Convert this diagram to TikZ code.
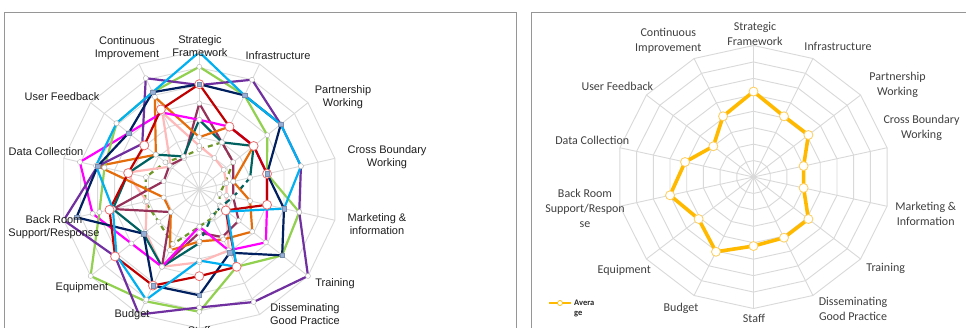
\documentclass[tikz,border=0pt]{standalone}
\usepackage{fontspec}
\setmainfont{Liberation Sans}
\newfontfamily\calibri{Carlito}
\definecolor{gridc}{RGB}{217,217,217}
\definecolor{framec}{RGB}{150,150,150}
\definecolor{cCyan}{RGB}{0,176,240}
\definecolor{cGreen}{RGB}{146,208,80}
\definecolor{cNavy}{RGB}{0,32,96}
\definecolor{cPurple}{RGB}{112,48,160}
\definecolor{cRed}{RGB}{192,0,0}
\definecolor{cMag}{RGB}{255,0,255}
\definecolor{cOrange}{RGB}{228,108,10}
\definecolor{cTeal}{RGB}{0,98,96}
\definecolor{cOlive}{RGB}{110,150,40}
\definecolor{cPlum}{RGB}{150,50,90}
\definecolor{cPink}{RGB}{255,185,185}
\definecolor{cAvg}{RGB}{255,186,0}
\definecolor{cAvgMk}{RGB}{255,205,90}
\definecolor{cSq}{RGB}{150,175,215}
\definecolor{cRedMk}{RGB}{235,110,110}
\definecolor{labc}{RGB}{30,30,30}
\definecolor{labr}{RGB}{64,64,64}
\def\Lcx{199.3}\def\Lcy{189.3}\def\LR{139}
\def\Rcx{753.5}\def\Rcy{177}\def\Rrx{137}\def\Rry{131.5}
\newcommand\Lpts[2]{\foreach \v [count=\i from 0] in {#2}{\coordinate (#1\i) at ({\Lcx+\LR*\v/8*sin(\i*360/14)},{\Lcy-\LR*\v/8*cos(\i*360/14)});}}
\newcommand\Lpoly[2]{\draw[#2] (#10) \foreach \i in {1,...,13}{ -- (#1\i)} -- cycle;}
\newcommand\Lmarks[2]{\foreach \i in {0,...,13}{\node[#2] at (#1\i) {};}}
\begin{document}
\begin{tikzpicture}[x=1pt,y=-1pt,
  grid/.style={draw=gridc,line width=0.9pt},
  ser/.style={line width=2.2pt,line join=round},
  wmk/.style={circle,fill=white,draw=black!30,line width=0.4pt,minimum size=5pt,inner sep=0pt},
  rmk/.style={circle,fill=white,draw=cRedMk,line width=0.8pt,minimum size=9pt,inner sep=0pt},
  sqmk/.style={rectangle,fill=cSq,draw=cSq!80!black,line width=0.3pt,minimum size=4.5pt,inner sep=0pt},
  llab/.style={font=\fontsize{11}{13}\selectfont,text=labc,align=center,inner sep=0pt},
  rlab/.style={font=\calibri\fontsize{12}{15}\selectfont,text=labr,align=center,inner sep=0pt},
  amk/.style={circle,fill=white,draw=cAvgMk,line width=0.8pt,minimum size=9pt,inner sep=0pt},
  frame/.style={draw=framec,line width=0.8pt}]
\useasboundingbox (0,0) rectangle (966,327);
\begin{scope}
\clip (0,0) rectangle (966,327);
\fill[white] (0,0) rectangle (966,327);
\draw[frame] (4,12) rectangle (516.7,340);
\draw[frame] (531.7,12) rectangle (980,340);
% ---------- left grid
\foreach \r in {1,...,8}{
  \draw[grid] ({\Lcx},{\Lcy-\LR*\r/8}) \foreach \k in {1,...,13}{ -- ({\Lcx+\LR*\r/8*sin(\k*360/14)},{\Lcy-\LR*\r/8*cos(\k*360/14)})} -- cycle;}
\foreach \k in {0,...,13}{\draw[grid] (\Lcx,\Lcy) -- ({\Lcx+\LR*sin(\k*360/14)},{\Lcy-\LR*cos(\k*360/14)});}
% ---------- left series
\Lpts{ol}{2.3,3,2.5,1.5,1.2,1.5,1.8,2.15,3.5,3.0,3.2,3.15,2.5,2.1}
\Lpoly{ol}{ser,cOlive,dash pattern=on 5pt off 4pt}
\Lpts{pk}{2.5,2,1.8,1.6,1.6,2.0,3.9,4.2,4.95,3.95,3.1,4.3,2.1,4.9}
\Lpoly{pk}{ser,cPink}
\Lpts{pl}{4.95,3,2.5,2,2,2.9,3.05,2.5,4.95,2.1,5.1,2.1,2.2,2.0}
\Lpoly{pl}{ser,cPlum}
\Lpts{te}{4,3,4,3,2,1.6,1.7,3.1,4.95,4.1,5.1,4.2,3.2,2.1}
\draw[ser,cTeal] (te3) -- (te2) -- (te1) -- (te0) -- (te13) -- (te12) -- (te11) -- (te10) -- (te9) -- (te8) -- (te7);
\draw[ser,cTeal,dash pattern=on 6pt off 4pt] (te3) -- (te4) -- (te5) -- (te6) -- (te7);
\Lpts{or}{3,4,4,2,3,3.9,3.2,3,3.9,2.1,2.1,6,3.2,5.9}
\Lpoly{or}{ser,cOrange}
\Lpts{mg}{4,4,4,4,4,4.9,3.9,2.15,4.95,5,6.3,7.05,5.2,4.9}
\Lpoly{mg}{ser,cMag}
\Lpts{gr}{7.05,6,5,4,5.9,6.1,4.95,7.05,7.15,8,5.9,5.6,6.1,6.2}
\Lpoly{gr}{ser,cGreen}
\Lpts{pu}{6,7,6,6,5.9,8,7.2,6.8,8,6.2,8,6,4.2,7.1}
\Lpoly{pu}{ser,cPurple}
\Lpts{nv}{6.05,6,6,4,5,6.1,4.05,6.1,6.15,4.1,7.25,6,5.2,6.2}
\Lpoly{nv}{ser,cNavy}
\Lpts{rd}{6.05,4,4,4,4,1.95,4.95,5,6.15,6.2,5.3,4.2,4.05,5.1}
\Lpoly{rd}{ser,cRed}
\Lpts{cy}{7.9,6,6,6,5,2.05,4.95,4.1,7.05,6.1,5.1,6.1,6.1,6.2}
\Lpoly{cy}{ser,cCyan}
% markers
\Lmarks{ol}{wmk}\Lmarks{pk}{wmk}\Lmarks{pl}{wmk}\Lmarks{te}{wmk}\Lmarks{or}{wmk}
\Lmarks{mg}{wmk}\Lmarks{gr}{wmk}\Lmarks{pu}{wmk}\Lmarks{cy}{wmk}
\Lmarks{rd}{rmk}\Lmarks{nv}{sqmk}
% ---------- left labels
\node[llab] (lsf) at (200,46) {Strategic\\Framework};
\node[llab] (linf) at (278,56) {Infrastructure};
\node[llab] (lpw) at (343,97.5) {Partnership\\Working};
\node[llab] (lcb) at (387,157.5) {Cross Boundary\\Working};
\node[llab] (lmi) at (377,224) {Marketing \&\\information};
\node[llab] (ltr) at (335,284) {Training};
\node[llab] (ldg) at (305,314.5) {Disseminating\\Good Practice};
\node[llab] (lst) at (199,331) {Staff};
\node[llab] (lbu) at (132,315) {Budget};
\node[llab] (leq) at (82,288) {Equipment};
\node[llab] (lbr) at (54,227) {Back Room\\Support/Response};
\node[llab] (ldc) at (46,152) {Data Collection};
\node[llab] (luf) at (62,97) {User Feedback};
\node[llab] (lci) at (127,48) {Continuous\\Improvement};
% ---------- right grid
\foreach \r in {1,...,8}{
  \draw[grid] ({\Rcx},{\Rcy-\Rry*\r/8}) \foreach \k in {1,...,13}{ -- ({\Rcx+\Rrx*\r/8*sin(\k*360/14)},{\Rcy-\Rry*\r/8*cos(\k*360/14)})} -- cycle;}
\foreach \k in {0,...,13}{\draw[grid] (\Rcx,\Rcy) -- ({\Rcx+\Rrx*sin(\k*360/14)},{\Rcy-\Rry*cos(\k*360/14)});}
% ---------- average
\foreach \v [count=\i from 0] in {5.2,4.1,4.1,3.0,3.0,4.1,4.1,4.2,5.05,4.1,5.0,4.1,3.0,4.1}{
  \coordinate (av\i) at ({\Rcx+\Rrx*\v/8*sin(\i*360/14)},{\Rcy-\Rry*\v/8*cos(\i*360/14)});}
\draw[cAvg,line width=3.6pt,line join=round] (av0) \foreach \i in {1,...,13}{ -- (av\i)} -- cycle;
\foreach \i in {0,...,13}{\node[amk] at (av\i) {};}
% ---------- right labels
\node[rlab] (rsf) at (755,34.2) {Strategic\\Framework};
\node[rlab] (rinf) at (838,46.7) {Infrastructure};
\node[rlab] (rpw) at (897.5,85.3) {Partnership\\Working};
\node[rlab] (rcb) at (921.5,128.2) {Cross Boundary\\Working};
\node[rlab] (rmi) at (925.7,214.3) {Marketing \&\\Information};
\node[rlab] (rtr) at (885.7,268.3) {Training};
\node[rlab] (rdg) at (853,309.2) {Disseminating\\Good Practice};
\node[rlab] (rst) at (754,318.3) {Staff};
\node[rlab] (rbu) at (681,308.3) {Budget};
\node[rlab] (req) at (624.3,270) {Equipment};
\node[rlab] (rbr) at (585,208.8) {Back Room\\Support/Respon\\se};
\node[rlab] (rdc) at (592.3,140.7) {Data Collection};
\node[rlab] (ruf) at (617.3,86) {User Feedback};
\node[rlab] (rci) at (668.3,40.8) {Continuous\\Improvement};
% ---------- legend
\coordinate (lg1) at (549,303);
\coordinate (lg2) at (571,303);
\draw[cAvg,line width=1.4pt] (lg1) -- (lg2);
\node[circle,fill=white,draw=cAvg,line width=0.7pt,minimum size=5pt,inner sep=0pt] (lgm) at (560,303) {};
\node[anchor=west,inner sep=0pt,font=\calibri\bfseries\fontsize{8.5}{10}\selectfont,text=black!85,align=left] (lgt) at (574,308) {Avera\\ge};
\end{scope}
\end{tikzpicture}
\end{document}
